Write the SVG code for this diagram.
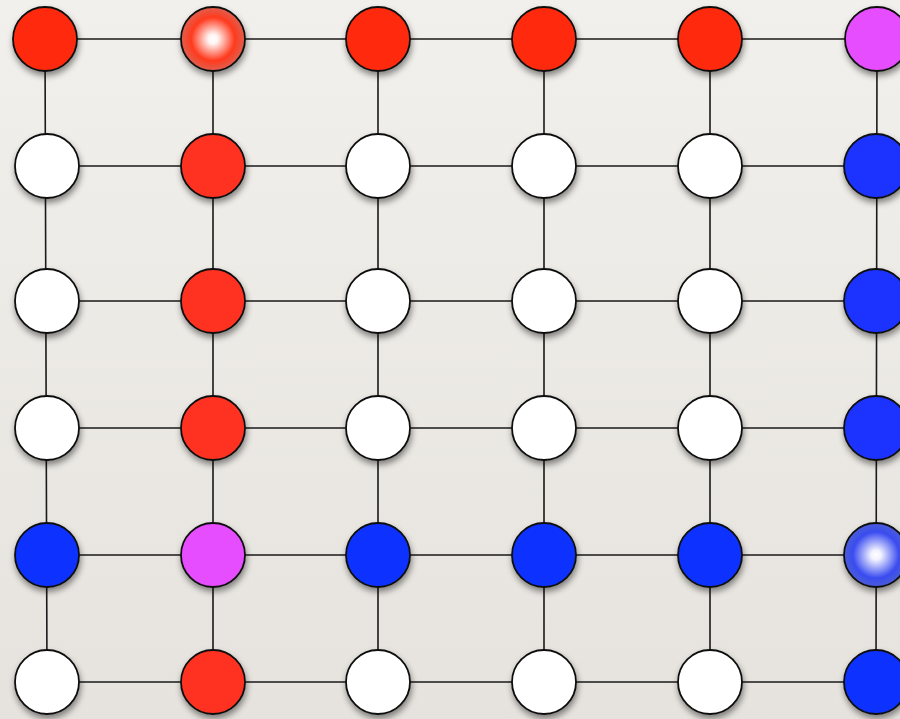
<svg xmlns="http://www.w3.org/2000/svg" width="900" height="719" viewBox="0 0 900 719">
<defs>
<linearGradient id="bg" x1="0" y1="0" x2="0" y2="1"><stop offset="0" stop-color="#f2f0ec"/><stop offset="1" stop-color="#e6e3de"/></linearGradient>
<filter id="sh" x="-50%" y="-50%" width="200%" height="200%"><feDropShadow dx="1" dy="4" stdDeviation="3" flood-color="#000" flood-opacity="0.45"/></filter>
<radialGradient id="rg" cx="0.5" cy="0.5" r="0.5"><stop offset="0" stop-color="#ffffff"/><stop offset="0.15" stop-color="#fff4f2"/><stop offset="0.68" stop-color="#ff3a1e"/><stop offset="1" stop-color="#e0604e"/></radialGradient>
<radialGradient id="bgr" cx="0.5" cy="0.5" r="0.5"><stop offset="0" stop-color="#ffffff"/><stop offset="0.15" stop-color="#f2f3ff"/><stop offset="0.72" stop-color="#3a4cf0"/><stop offset="1" stop-color="#4a5cd8"/></radialGradient>
<style>
.e{stroke:#1a1a1a;stroke-width:1.6;fill:none}
.n{stroke:#111;stroke-width:1.8;filter:url(#sh)}
.r{fill:#ff2a0c}.r2{fill:#ff3322}.w{fill:#ffffff}.b{fill:#0a32ff}.b2{fill:#1a33ff}.m{fill:#e64dff}
</style>
</defs>
<rect width="900" height="719" fill="url(#bg)"/>
<g id="edges">
<path class="e" d="M45 39H877M47 166H876M47 301H876M47 428H876M47 555H876M47 682H876"/>
<path class="e" d="M45 39L47 682M213 39V682M378 39V682M544 39V682M710 39V682M877 39L876 682"/>
</g>
<g id="n00"><circle class="n r" cx="45" cy="39" r="32"/></g>
<g id="n01"><circle class="n" fill="url(#rg)" cx="213" cy="39" r="32"/></g>
<g id="n02"><circle class="n r" cx="378" cy="39" r="32"/></g>
<g id="n03"><circle class="n r" cx="544" cy="39" r="32"/></g>
<g id="n04"><circle class="n r" cx="710" cy="39" r="32"/></g>
<g id="n05"><circle class="n m" cx="877" cy="39" r="32"/></g>

<g id="n10"><circle class="n w" cx="47" cy="166" r="32"/></g>
<g id="n11"><circle class="n r2" cx="213" cy="166" r="32"/></g>
<g id="n12"><circle class="n w" cx="378" cy="166" r="32"/></g>
<g id="n13"><circle class="n w" cx="544" cy="166" r="32"/></g>
<g id="n14"><circle class="n w" cx="710" cy="166" r="32"/></g>
<g id="n15"><circle class="n b2" cx="876" cy="166" r="32"/></g>

<g id="n20"><circle class="n w" cx="47" cy="301" r="32"/></g>
<g id="n21"><circle class="n r2" cx="213" cy="301" r="32"/></g>
<g id="n22"><circle class="n w" cx="378" cy="301" r="32"/></g>
<g id="n23"><circle class="n w" cx="544" cy="301" r="32"/></g>
<g id="n24"><circle class="n w" cx="710" cy="301" r="32"/></g>
<g id="n25"><circle class="n b2" cx="876" cy="301" r="32"/></g>

<g id="n30"><circle class="n w" cx="47" cy="428" r="32"/></g>
<g id="n31"><circle class="n r2" cx="213" cy="428" r="32"/></g>
<g id="n32"><circle class="n w" cx="378" cy="428" r="32"/></g>
<g id="n33"><circle class="n w" cx="544" cy="428" r="32"/></g>
<g id="n34"><circle class="n w" cx="710" cy="428" r="32"/></g>
<g id="n35"><circle class="n b2" cx="876" cy="428" r="32"/></g>

<g id="n40"><circle class="n b" cx="47" cy="555" r="32"/></g>
<g id="n41"><circle class="n m" cx="213" cy="555" r="32"/></g>
<g id="n42"><circle class="n b" cx="378" cy="555" r="32"/></g>
<g id="n43"><circle class="n b" cx="544" cy="555" r="32"/></g>
<g id="n44"><circle class="n b" cx="710" cy="555" r="32"/></g>
<g id="n45"><circle class="n" fill="url(#bgr)" cx="876" cy="555" r="32"/></g>

<g id="n50"><circle class="n w" cx="47" cy="682" r="32"/></g>
<g id="n51"><circle class="n r2" cx="213" cy="682" r="32"/></g>
<g id="n52"><circle class="n w" cx="378" cy="682" r="32"/></g>
<g id="n53"><circle class="n w" cx="544" cy="682" r="32"/></g>
<g id="n54"><circle class="n w" cx="710" cy="682" r="32"/></g>
<g id="n55"><circle class="n b" cx="876" cy="682" r="32"/></g>
</svg>
